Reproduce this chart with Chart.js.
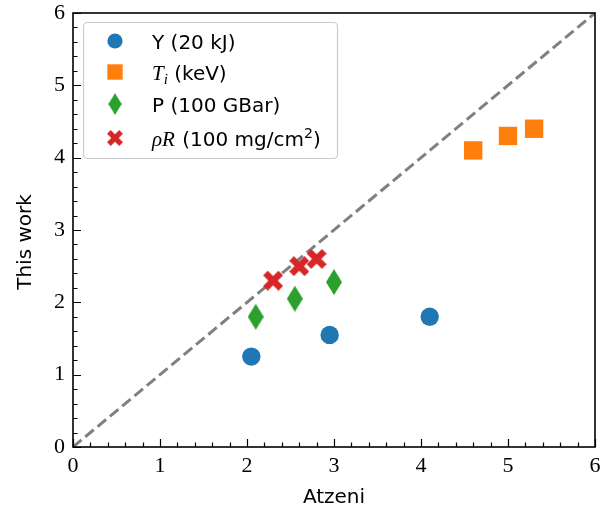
<!DOCTYPE html>
<html>
<head>
<meta charset="utf-8">
<script src="https://cdn.jsdelivr.net/npm/chart.js@4.4.0/dist/chart.umd.min.js"></script>
<style>
html, body { margin: 0; padding: 0; background: #fff; }
#box { width: 611px; height: 512px; }
</style>
</head>
<body>
<div id="box"><canvas id="grafico"></canvas></div>
<script>
// valores (Atzeni x This work)
const yieldX = [2.05, 2.95, 4.1];
const yieldY = [1.25, 1.55, 1.8];
const tiX = [4.6, 5.0, 5.3];
const tiY = [4.1, 4.3, 4.4];
const presX = [2.1, 2.55, 3.0];
const presY = [1.8, 2.05, 2.28];
const rhoRX = [2.3, 2.6, 2.8];
const rhoRY = [2.3, 2.5, 2.6];
const diagX = [0, 6];
const diagY = [0, 6];
const tickLabels = ['0', '1', '2', '3', '4', '5', '6'];

const SANS = '"DejaVu Sans", sans-serif';
const SERIF = '"Liberation Serif", serif';
const AZUL = '#1f77b4', LARANJA = '#ff7f0e', VERDE = '#2ca02c', VERMELHO = '#d62728';

const pares = (xs, ys) => xs.map((v, i) => ({ x: v, y: ys[i] }));

// marcador losango fino (como o 'd' do matplotlib)
function losango(w, h, cor) {
    const c = document.createElement('canvas');
    c.width = w; c.height = h;
    const g = c.getContext('2d');
    g.fillStyle = cor;
    g.beginPath();
    g.moveTo(w / 2, 0); g.lineTo(w, h / 2); g.lineTo(w / 2, h); g.lineTo(0, h / 2);
    g.closePath(); g.fill();
    return c;
}

// marcador X cheio
function xis(s, lw, cor) {
    const c = document.createElement('canvas');
    c.width = s; c.height = s;
    const g = c.getContext('2d');
    const m = s / 2, d = s / 2 - lw * 0.36;
    g.strokeStyle = cor; g.lineWidth = lw; g.lineCap = 'butt';
    g.beginPath();
    g.moveTo(m - d, m - d); g.lineTo(m + d, m + d);
    g.moveTo(m + d, m - d); g.lineTo(m - d, m + d);
    g.stroke();
    return c;
}

const imgLosango = losango(16, 26, VERDE);
const imgXis = xis(20, 6.5, VERMELHO);

function textoRico(ctx, partes, x, y) {
    let cx = x;
    partes.forEach(p => {
        ctx.font = p.font;
        ctx.fillText(p.t, cx, y + (p.dy || 0));
        cx += ctx.measureText(p.t).width + (p.gap || 0);
    });
}

const legendaRows = [
    [{ t: 'Y (20 kJ)', font: '20px ' + SANS }],
    [{ t: 'T', font: 'italic 21px ' + SERIF }, { t: 'i', font: 'italic 15px ' + SERIF, dy: 4 }, { t: ' (keV)', font: '20px ' + SANS }],
    [{ t: 'P (100 GBar)', font: '20px ' + SANS }],
    [{ t: 'ρR', font: 'italic 21px ' + SERIF, gap: 1 }, { t: ' (100 mg/cm', font: '20px ' + SANS }, { t: '2', font: '14px ' + SANS, dy: -8 }, { t: ')', font: '20px ' + SANS }]
];

const moldura = {
    id: 'moldura',
    afterDatasetsDraw(chart) {
        const { ctx, chartArea: a, scales: { x, y } } = chart;
        ctx.save();
        ctx.strokeStyle = '#000';
        ctx.lineWidth = 1.2;
        ctx.beginPath();
        for (let i = 0; i <= 30; i++) {
            const len = i % 5 === 0 ? 8 : 4.5;
            const px = Math.round(x.getPixelForValue(i / 5)) + 0.5;
            ctx.moveTo(px, a.bottom); ctx.lineTo(px, a.bottom - len);
            const py = Math.round(y.getPixelForValue(i / 5)) + 0.5;
            ctx.moveTo(a.left, py); ctx.lineTo(a.left + len, py);
        }
        ctx.stroke();
        ctx.lineWidth = 1.6;
        ctx.strokeRect(a.left, a.top, a.right - a.left, a.bottom - a.top);

        // títulos dos eixos
        ctx.fillStyle = '#000';
        ctx.font = '20px ' + SANS;
        ctx.textAlign = 'center';
        ctx.textBaseline = 'middle';
        ctx.fillText('Atzeni', (a.left + a.right) / 2, 498);
        ctx.translate(26, 242);
        ctx.rotate(-Math.PI / 2);
        ctx.fillText('This work', 0, 0);
        ctx.restore();

        // legenda
        ctx.save();
        ctx.beginPath();
        ctx.roundRect(83.5, 22.5, 254, 136, 4);
        ctx.fillStyle = 'rgba(255,255,255,0.8)';
        ctx.fill();
        ctx.strokeStyle = '#cccccc';
        ctx.lineWidth = 1.2;
        ctx.stroke();
        const rowsY = [41, 72, 104, 138];
        const mx = 115;
        ctx.fillStyle = AZUL;
        ctx.beginPath(); ctx.arc(mx, rowsY[0], 7.6, 0, Math.PI * 2); ctx.fill();
        ctx.fillStyle = LARANJA;
        ctx.fillRect(mx - 7.7, rowsY[1] - 7.7, 15.4, 15.4);
        ctx.drawImage(imgLosango, mx - 6.7, rowsY[2] - 10.7, 13.4, 21.4);
        ctx.drawImage(imgXis, mx - 8, rowsY[3] - 8, 16, 16);
        ctx.fillStyle = '#000';
        ctx.textAlign = 'left';
        ctx.textBaseline = 'alphabetic';
        legendaRows.forEach((r, i) => textoRico(ctx, r, 152, rowsY[i] + 8));
        ctx.restore();
    }
};

const eixo = (pad) => ({
    type: 'linear',
    min: 0,
    max: 6,
    grid: { display: false, drawTicks: false },
    border: { display: false },
    ticks: {
        stepSize: 1,
        padding: pad,
        color: '#000',
        font: { family: SERIF, size: 22 },
        callback: (v, i) => tickLabels[i]
    }
});

const ctx = document.getElementById('grafico').getContext('2d');
const grafico = new Chart(ctx, {
    type: 'scatter',
    data: {
        datasets: [
            { label: 'Y (20 kJ)', data: pares(yieldX, yieldY), pointStyle: 'circle', pointRadius: 9.2, backgroundColor: AZUL, borderWidth: 0 },
            { label: 'Ti (keV)', data: pares(tiX, tiY), pointStyle: 'rect', pointRadius: 13, backgroundColor: LARANJA, borderWidth: 0 },
            { label: 'P (100 GBar)', data: pares(presX, presY), pointStyle: imgLosango, backgroundColor: VERDE },
            { label: 'rhoR (100 mg/cm2)', data: pares(rhoRX, rhoRY), pointStyle: imgXis, backgroundColor: VERMELHO },
            {
                type: 'line', label: 'y = x', data: pares(diagX, diagY), order: 10,
                borderColor: '#808080', borderWidth: 3, borderDash: [11, 5], pointRadius: 0, fill: false
            }
        ]
    },
    options: {
        responsive: true,
        maintainAspectRatio: false,
        animation: false,
        devicePixelRatio: 1,
        layout: { padding: { left: 0, right: 16, top: 13, bottom: 0 } },
        scales: {
            x: Object.assign(eixo(6), { afterFit: s => { s.height = 65; s.paddingLeft = 0; s.paddingRight = 0; } }),
            y: Object.assign(eixo(8), { afterFit: s => { s.width = 73; s.paddingTop = 0; s.paddingBottom = 0; } })
        },
        plugins: {
            legend: { display: false },
            tooltip: { enabled: false }
        }
    },
    plugins: [moldura]
});
</script>
</body>
</html>
